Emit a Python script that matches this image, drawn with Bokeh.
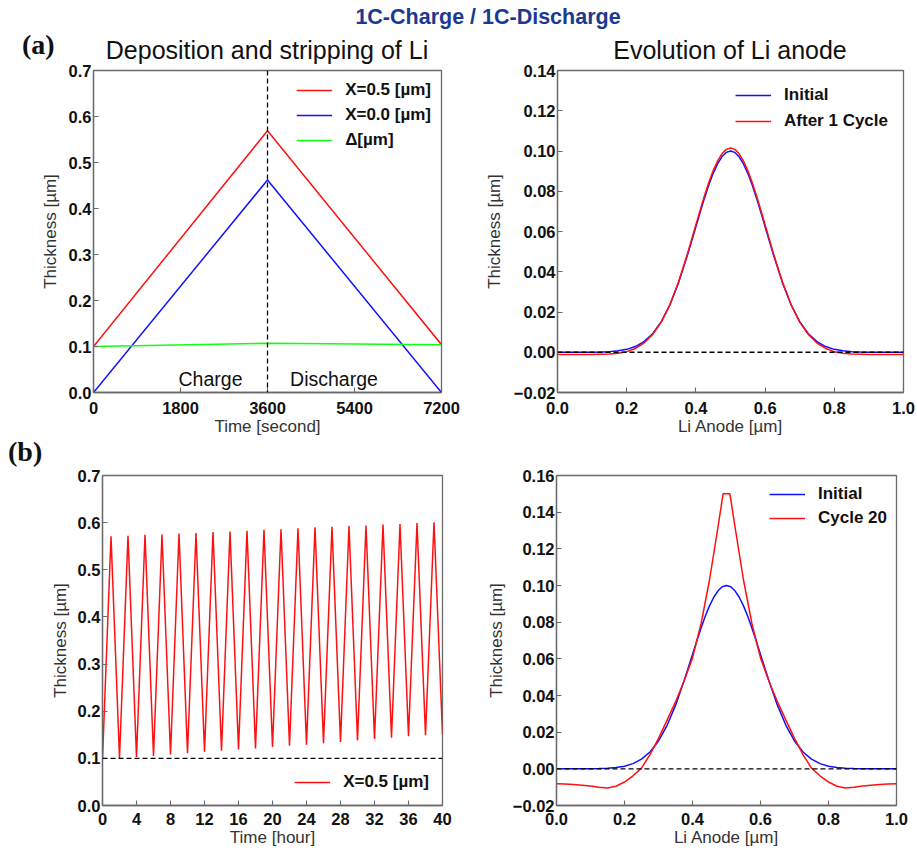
from bokeh.plotting import figure
from bokeh.models import Div, Label, Span, Legend, LegendItem, FixedTicker, Range1d
from bokeh.layouts import column, row
from bokeh.embed import file_html
from bokeh.resources import INLINE

# ---------------- data ----------------
# (a) left: one cycle, time in seconds
a_time = [0, 3600, 7200]
a_x05 = [0.100, 0.569, 0.104]
a_x00 = [0.000, 0.462, 0.000]
a_delta = [0.100, 0.107, 0.104]
a_split_time = 3600

# anode profiles
anode_x = [0.0, 0.025, 0.05, 0.075, 0.1, 0.125, 0.15, 0.175, 0.2, 0.225, 0.25,
           0.275, 0.3, 0.325, 0.35, 0.375, 0.4, 0.4125, 0.425, 0.4375, 0.45, 0.4625, 0.475, 0.4875, 0.5,
           0.5125, 0.525, 0.5375, 0.55, 0.5625, 0.575, 0.5875, 0.6, 0.625, 0.65, 0.675, 0.7, 0.725, 0.75,
           0.775, 0.8, 0.825, 0.85, 0.875, 0.9, 0.925, 0.95, 0.975, 1.0]
initial = [0.0, 0.0, 0.0, 0.00001, 0.00005, 0.00013, 0.00031, 0.00069, 0.00144, 0.00283, 0.00526,
           0.0092, 0.0152, 0.0236, 0.0346, 0.0479, 0.0624, 0.0697, 0.0767, 0.0832, 0.0889, 0.0936, 0.0971, 0.0993, 0.1000,
           0.0993, 0.0971, 0.0936, 0.0889, 0.0832, 0.0767, 0.0697, 0.0624, 0.0479, 0.0346, 0.0236, 0.0152, 0.0092, 0.00526,
           0.00283, 0.00144, 0.00069, 0.00031, 0.00013, 0.00005, 0.00001, 0.0, 0.0, 0.0]
after1 = [-0.0011, -0.0011, -0.0011, -0.0011, -0.0011, -0.0010, -0.0009, -0.0005, 0.0003, 0.0019, 0.0046,
          0.0088, 0.0150, 0.0237, 0.0350, 0.0486, 0.0634, 0.0707, 0.0779, 0.0845, 0.0903, 0.0950, 0.0986, 0.1008, 0.1015,
          0.1008, 0.0986, 0.0950, 0.0903, 0.0845, 0.0779, 0.0707, 0.0634, 0.0486, 0.0350, 0.0237, 0.0150, 0.0088, 0.0046,
          0.0019, 0.0003, -0.0005, -0.0009, -0.0010, -0.0011, -0.0011, -0.0011, -0.0011, -0.0011]

anode_x20 = [0.0, 0.025, 0.05, 0.075, 0.1, 0.125, 0.15, 0.175, 0.2, 0.225, 0.25,
             0.275, 0.3, 0.325, 0.35, 0.375, 0.4, 0.425, 0.45, 0.475, 0.49, 0.5, 0.51,
             0.525, 0.55, 0.575, 0.6, 0.625, 0.65, 0.675, 0.7, 0.725, 0.75,
             0.775, 0.8, 0.825, 0.85, 0.875, 0.9, 0.925, 0.95, 0.975, 1.0]
cycle20 = [-0.0082, -0.0083, -0.0085, -0.0089, -0.0094, -0.0100, -0.0104, -0.0095, -0.0072, -0.0038, 0.0004,
           0.0078, 0.0166, 0.0264, 0.0365, 0.0478, 0.0605, 0.0790, 0.1030, 0.1320, 0.1500, 0.1500, 0.1500,
           0.1320, 0.1030, 0.0790, 0.0605, 0.0478, 0.0365, 0.0264, 0.0166, 0.0078, 0.0004,
           -0.0038, -0.0072, -0.0095, -0.0104, -0.0100, -0.0094, -0.0089, -0.0085, -0.0083, -0.0082]

# (b) left: 20 cycles, time in hours
b_time = list(range(0, 41))
b_x05 = [0.100,
         0.571, 0.101, 0.572, 0.103, 0.574, 0.105, 0.575, 0.108, 0.577, 0.111,
         0.578, 0.114, 0.580, 0.116, 0.581, 0.119, 0.583, 0.121, 0.585, 0.124,
         0.586, 0.127, 0.588, 0.129, 0.590, 0.132, 0.591, 0.135, 0.593, 0.138,
         0.594, 0.141, 0.596, 0.144, 0.597, 0.147, 0.599, 0.149, 0.601, 0.151]
b_threshold = 0.1
zero_level = 0.0

# ticks
sec_ticks = [0, 1800, 3600, 5400, 7200]
sec_labels = ["0", "1800", "3600", "5400", "7200"]
hour_ticks = [0, 4, 8, 12, 16, 20, 24, 28, 32, 36, 40]
hour_labels = ["0", "4", "8", "12", "16", "20", "24", "28", "32", "36", "40"]
thick_ticks = [0.0, 0.1, 0.2, 0.3, 0.4, 0.5, 0.6, 0.7]
thick_labels = ["0.0", "0.1", "0.2", "0.3", "0.4", "0.5", "0.6", "0.7"]
anode_ticks = [0.0, 0.2, 0.4, 0.6, 0.8, 1.0]
anode_labels = ["0.0", "0.2", "0.4", "0.6", "0.8", "1.0"]
a_prof_ticks = [-0.02, 0.0, 0.02, 0.04, 0.06, 0.08, 0.10, 0.12, 0.14]
a_prof_labels = ["\u22120.02", "0.00", "0.02", "0.04", "0.06", "0.08", "0.10", "0.12", "0.14"]
b_prof_ticks = [-0.02, 0.0, 0.02, 0.04, 0.06, 0.08, 0.10, 0.12, 0.14, 0.16]
b_prof_labels = ["\u22120.02", "0.00", "0.02", "0.04", "0.06", "0.08", "0.10", "0.12", "0.14", "0.16"]

# ---------------- styling ----------------
FONT = "Liberation Sans"
RED, BLUE, GREEN = "#ff1010", "#1010ff", "#10ff10"
FRAME = "#6a6a6a"


def make_fig(xr, yr, fw, fh, bl, br, bt, bb):
    p = figure(x_range=Range1d(*xr), y_range=Range1d(*yr), frame_width=fw, frame_height=fh,
               min_border_left=bl, min_border_right=br, min_border_top=bt, min_border_bottom=bb,
               toolbar_location=None, output_backend="svg", title=None)
    p.grid.visible = False
    p.outline_line_color = FRAME
    p.outline_line_width = 1.3
    p.background_fill_color = "white"
    p.border_fill_alpha = 0
    return p


def style_axes(p, xt, xl, yt, yl, xlabel, ylabel, ystand, xstand):
    for ax in (p.xaxis[0], p.yaxis[0]):
        ax.axis_line_color = FRAME
        ax.axis_line_width = 1.3
        ax.major_tick_in = 5
        ax.major_tick_out = 0
        ax.major_tick_line_color = FRAME
        ax.major_tick_line_width = 1.1
        ax.minor_tick_line_color = None
        ax.major_label_text_font = FONT
        ax.major_label_text_font_style = "bold"
        ax.major_label_text_font_size = "16.5px"
        ax.major_label_text_color = "#111111"
        ax.axis_label_text_font = FONT
        ax.axis_label_text_font_style = "normal"
        ax.axis_label_text_font_size = "17px"
        ax.axis_label_text_color = "#333333"
    p.xaxis[0].major_label_standoff = xstand
    p.yaxis[0].major_label_standoff = 2
    p.xaxis[0].ticker = FixedTicker(ticks=xt)
    p.xaxis[0].major_label_overrides = dict(zip(xt, xl))
    p.yaxis[0].ticker = FixedTicker(ticks=yt)
    p.yaxis[0].major_label_overrides = dict(zip(yt, yl))
    p.xaxis[0].axis_label = xlabel
    p.yaxis[0].axis_label = ylabel
    p.xaxis[0].axis_label_standoff = 0
    p.yaxis[0].axis_label_standoff = ystand


def add_legend(p, items, loc, margin, padding, spacing):
    lg = Legend(items=[LegendItem(label=t, renderers=[r]) for t, r in items], location=loc)
    lg.border_line_color = None
    lg.background_fill_alpha = 0
    lg.label_text_font = FONT
    lg.label_text_font_style = "bold"
    lg.label_text_font_size = "17px"
    lg.label_text_color = "#111111"
    lg.glyph_width = 36
    lg.glyph_height = 20
    lg.label_height = 20
    lg.label_standoff = 13
    lg.spacing = spacing
    lg.margin = margin
    lg.padding = padding
    p.add_layout(lg)


def dashed(loc, dim):
    return Span(location=loc, dimension=dim, line_color="black", line_dash="5 3", line_width=1.3)


# ---------- (a) left ----------
pa1 = make_fig((0, 7200), (0, 0.7), 348, 322, 93, 29, 10, 48)
style_axes(pa1, sec_ticks, sec_labels, thick_ticks, thick_labels, "Time [second]", "Thickness [\u00b5m]", 6, 9)
pa1.add_layout(dashed(a_split_time, "height"))
r1 = pa1.line(a_time, a_x05, line_color=RED, line_width=1.5)
r2 = pa1.line(a_time, a_x00, line_color=BLUE, line_width=1.5)
r3 = pa1.line(a_time, a_delta, line_color=GREEN, line_width=1.5)
add_legend(pa1, [("X=0.5 [\u00b5m]", r1), ("X=0.0 [\u00b5m]", r2), ("\u0394[\u00b5m]", r3)], "top_right", 10, 5, 5)
pa1.add_layout(Label(x=2421, y=0.0304, text="Charge", text_align="center", text_baseline="alphabetic",
                     text_font=FONT, text_font_size="19.5px", text_color="#111111"))
pa1.add_layout(Label(x=4976, y=0.0304, text="Discharge", text_align="center", text_baseline="alphabetic",
                     text_font=FONT, text_font_size="19.5px", text_color="#111111"))

# ---------- (a) right ----------
pa2 = make_fig((0, 1), (-0.02, 0.14), 346, 322, 87, 14, 10, 48)
style_axes(pa2, anode_ticks, anode_labels, a_prof_ticks, a_prof_labels, "Li Anode [\u00b5m]", "Thickness [\u00b5m]", 7, 9)
pa2.add_layout(dashed(zero_level, "width"))
r4 = pa2.line(anode_x, initial, line_color=BLUE, line_width=1.5)
r5 = pa2.line(anode_x, after1, line_color=RED, line_width=1.5)
add_legend(pa2, [("Initial", r4), ("After 1 Cycle", r5)], "top_right", 15, 5, 6)

# ---------- (b) left ----------
pb1 = make_fig((0, 40), (0, 0.7), 340, 330, 102, 28, 9, 47)
style_axes(pb1, hour_ticks, hour_labels, thick_ticks, thick_labels, "Time [hour]", "Thickness [\u00b5m]", 5, 7)
pb1.add_layout(dashed(b_threshold, "width"))
r6 = pb1.line(b_time, b_x05, line_color=RED, line_width=1.5)
add_legend(pb1, [("X=0.5 [\u00b5m]", r6)], "bottom_right", 13, 5, 5)

# ---------- (b) right ----------
pb2 = make_fig((0, 1), (-0.02, 0.16), 340, 330, 86, 21, 9, 47)
style_axes(pb2, anode_ticks, anode_labels, b_prof_ticks, b_prof_labels, "Li Anode [\u00b5m]", "Thickness [\u00b5m]", 4, 7)
pb2.add_layout(dashed(zero_level, "width"))
r7 = pb2.line(anode_x, initial, line_color=BLUE, line_width=1.5)
r8 = pb2.line(anode_x20, cycle20, line_color=RED, line_width=1.5)
add_legend(pb2, [("Initial", r7), ("Cycle 20", r8)], "top_right", 9, 4, 4)

# ---------- texts outside the plot frames ----------
SANS = "font-family:'Liberation Sans',Arial,sans-serif;"
SERIF = "font-family:'Liberation Serif','Times New Roman',serif;"
top_html = (
    '<div style="position:relative;width:917px;height:60px;margin:0;padding:0;">'
    '<div style="position:absolute;left:59px;top:5px;width:858px;text-align:center;' + SANS +
    'font-weight:bold;font-size:21.5px;line-height:24px;color:#1b3a8f;white-space:nowrap;">1C-Charge / 1C-Discharge</div>'
    '<div style="position:absolute;left:22px;top:31px;' + SERIF +
    'font-weight:bold;font-size:28px;line-height:28px;color:#111;">(a)</div>'
    '<div style="position:absolute;left:67px;top:38px;width:400px;text-align:center;' + SANS +
    'font-size:25px;line-height:25px;color:#111;white-space:nowrap;">Deposition and stripping of Li</div>'
    '<div style="position:absolute;left:530px;top:38px;width:400px;text-align:center;' + SANS +
    'font-size:25px;line-height:25px;color:#111;white-space:nowrap;">Evolution of Li anode</div>'
    '</div>'
)
mid_html = (
    '<div style="position:relative;width:917px;height:26px;margin:0;padding:0;">'
    '<div style="position:absolute;left:8px;top:-1px;' + SERIF +
    'font-weight:bold;font-size:28px;line-height:26px;color:#111;">(b)</div>'
    '</div>'
)
top_div = Div(text=top_html, width=917, height=60, margin=(0, 0, 0, 0))
mid_div = Div(text=mid_html, width=917, height=26, margin=(0, 0, 0, 0))

layout = column(top_div, row(pa1, pa2), mid_div, row(pb1, pb2))
open("out.html", "w").write(file_html(layout, INLINE))
